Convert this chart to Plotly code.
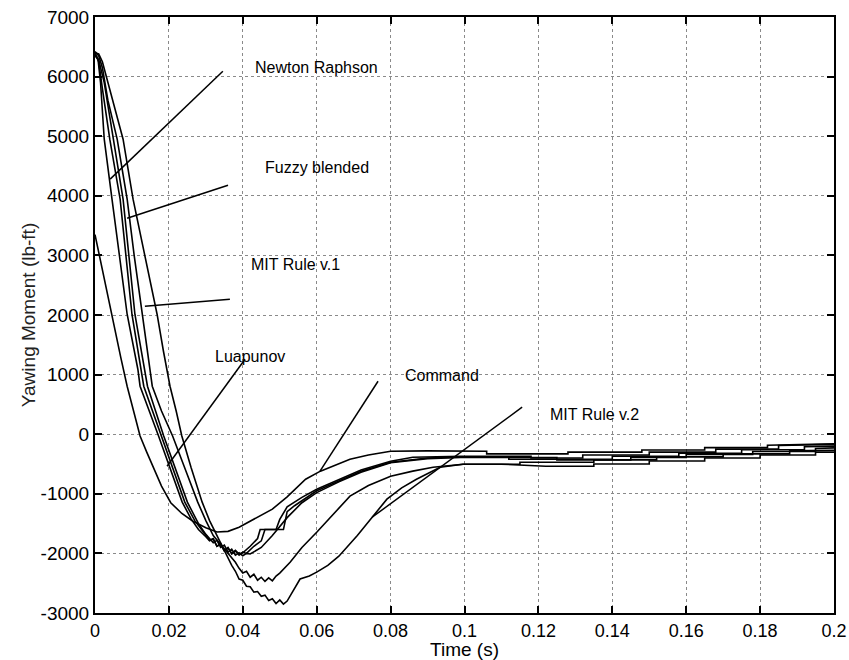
import plotly.graph_objects as go

# Yawing moment responses (time in s, moment in lb-ft)
cmd_t = [0, 0.001, 0.0022, 0.0035, 0.0054, 0.007, 0.0087, 0.0105, 0.0122, 0.014, 0.0157, 0.018,
         0.0205, 0.0235, 0.0265, 0.030, 0.033, 0.036, 0.039, 0.043, 0.048, 0.052, 0.057, 0.061,
         0.065, 0.069, 0.074, 0.080, 0.090, 0.099, 0.106, 0.106, 0.128, 0.128, 0.148, 0.148,
         0.165, 0.165, 0.182, 0.182, 0.2]
cmd_y = [3350, 3050, 2718, 2300, 1762, 1280, 805, 380, -30, -300, -540, -870,
         -1150, -1330, -1460, -1570, -1640, -1630, -1560, -1430, -1258, -1050, -755, -620,
         -520, -420, -350, -285, -280, -285, -285, -330, -330, -300, -300, -265,
         -265, -225, -225, -185, -160]

nr_t = [0, 0.0008, 0.0015, 0.0025, 0.0046, 0.0087, 0.0116, 0.0122, 0.0172, 0.0236, 0.026, 0.028,
        0.030, 0.031, 0.032, 0.033, 0.034, 0.035, 0.036, 0.037, 0.038, 0.039, 0.040, 0.042,
        0.044, 0.0447, 0.049, 0.050, 0.052, 0.056, 0.060, 0.066, 0.072, 0.080, 0.086, 0.099,
        0.118, 0.118, 0.132, 0.132, 0.150, 0.150, 0.168, 0.168, 0.185, 0.185, 0.2]
nr_y = [6400, 6300, 5900, 4950, 3943, 2013, 1090, 805, -30, -1140, -1420, -1600,
        -1720, -1790, -1760, -1880, -1850, -1960, -1910, -2000, -1950, -2010, -1990, -1880,
        -1750, -1600, -1600, -1430, -1220, -1060, -923, -755, -600, -453, -386, -369,
        -369, -400, -400, -350, -350, -300, -300, -250, -250, -190, -170]

lya_t = [0, 0.001, 0.002, 0.0040, 0.0068, 0.0100, 0.0132, 0.0180, 0.0243, 0.027, 0.029, 0.031,
         0.032, 0.033, 0.034, 0.035, 0.036, 0.037, 0.038, 0.039, 0.040, 0.041, 0.043, 0.045,
         0.046, 0.051, 0.052, 0.054, 0.060, 0.066, 0.072, 0.080, 0.090, 0.099,
         0.112, 0.112, 0.140, 0.140, 0.158, 0.158, 0.175, 0.175, 0.192, 0.192, 0.2]
lya_y = [6380, 6250, 5800, 4950, 3943, 2013, 805, -30, -1140, -1450, -1620, -1780,
         -1750, -1880, -1830, -1950, -1900, -2010, -1960, -2030, -1980, -2000, -1880, -1790,
         -1600, -1600, -1300, -1200, -950, -780, -620, -470, -400, -380,
         -380, -420, -420, -370, -370, -320, -320, -260, -260, -210, -200]

fz_t = [0, 0.001, 0.0025, 0.0050, 0.0076, 0.0108, 0.0142, 0.0186, 0.0250, 0.028, 0.030, 0.032,
        0.033, 0.034, 0.035, 0.036, 0.037, 0.038, 0.039, 0.040, 0.041, 0.042, 0.045, 0.048,
        0.052, 0.056, 0.060, 0.066, 0.072, 0.080, 0.090, 0.099,
        0.125, 0.125, 0.145, 0.145, 0.160, 0.160, 0.178, 0.178, 0.195, 0.195, 0.2]
fz_y = [6350, 6280, 5900, 4950, 3943, 2013, 805, -30, -1140, -1500, -1680, -1820,
        -1780, -1900, -1860, -1980, -1930, -2030, -1990, -2040, -2000, -2010, -1900, -1700,
        -1400, -1150, -980, -800, -640, -480, -410, -390,
        -390, -430, -430, -390, -390, -340, -340, -290, -290, -240, -230]

mit1_t = [0, 0.001, 0.002, 0.0035, 0.0060, 0.0087, 0.0106, 0.0128, 0.0141, 0.0155, 0.018, 0.021,
          0.0245, 0.0278, 0.030, 0.032, 0.034, 0.036, 0.038, 0.039, 0.040, 0.041, 0.042, 0.043,
          0.044, 0.045, 0.046, 0.047, 0.048, 0.049, 0.050, 0.0528, 0.056, 0.060, 0.065, 0.069,
          0.074, 0.080, 0.086, 0.0915, 0.0996, 0.115, 0.115, 0.135, 0.135, 0.152, 0.152,
          0.170, 0.170, 0.188, 0.188, 0.2]
mit1_y = [6420, 6350, 6150, 5600, 4950, 3943, 3000, 2013, 1400, 805, 390, -30,
          -600, -1140, -1450, -1700, -1850, -2000, -2150, -2250, -2330, -2300, -2400, -2350,
          -2450, -2400, -2470, -2410, -2460, -2380, -2330, -2150, -1900, -1645, -1300, -1040,
          -860, -705, -620, -554, -503, -503, -470, -470, -430, -430, -380,
          -380, -330, -330, -280, -270]

mit2_t = [0, 0.001, 0.002, 0.004, 0.0076, 0.0103, 0.0135, 0.0168, 0.0185, 0.0203, 0.022, 0.0235,
          0.026, 0.029, 0.031, 0.033, 0.035, 0.036, 0.037, 0.038, 0.039, 0.040, 0.041, 0.042,
          0.043, 0.044, 0.045, 0.046, 0.047, 0.048, 0.049, 0.050, 0.051, 0.052, 0.053, 0.0555,
          0.058, 0.060, 0.063, 0.066, 0.071, 0.075, 0.079, 0.083, 0.087, 0.0934, 0.0996,
          0.110, 0.122, 0.135, 0.135, 0.150, 0.150, 0.165, 0.165, 0.180, 0.180, 0.195, 0.195, 0.2]
mit2_y = [6400, 6380, 6250, 5800, 4950, 3943, 3000, 2013, 1400, 805, 380, -30,
          -560, -1140, -1450, -1700, -1950, -2100, -2200, -2300, -2430, -2450, -2550, -2560,
          -2650, -2640, -2720, -2700, -2790, -2760, -2840, -2780, -2850, -2800, -2700, -2430,
          -2380, -2315, -2200, -2047, -1700, -1393, -1090, -900, -755, -554, -503,
          -503, -537, -537, -500, -500, -450, -450, -400, -400, -350, -350, -300, -300]

series = [
    ("Command", cmd_t, cmd_y),
    ("Newton Raphson", nr_t, nr_y),
    ("Luapunov", lya_t, lya_y),
    ("Fuzzy blended", fz_t, fz_y),
    ("MIT Rule v.1", mit1_t, mit1_y),
    ("MIT Rule v.2", mit2_t, mit2_y),
]

x_ticks = [0, 0.02, 0.04, 0.06, 0.08, 0.1, 0.12, 0.14, 0.16, 0.18, 0.2]
x_tick_text = ["0", "0.02", "0.04", "0.06", "0.08", "0.1", "0.12", "0.14", "0.16", "0.18", "0.2"]
y_ticks = [-3000, -2000, -1000, 0, 1000, 2000, 3000, 4000, 5000, 6000, 7000]
y_tick_text = ["-3000", "-2000", "-1000", "0", "1000", "2000", "3000", "4000", "5000", "6000", "7000"]

# Curve labels: text anchor (left, middle) and leader line from label side to curve
labels = [
    ("Newton Raphson", (0.0428, 6158), (0.0346, 6090), (0.0041, 4280)),
    ("Fuzzy blended", (0.0455, 4480), (0.0360, 4178), (0.0087, 3624)),
    ("MIT Rule v.1", (0.0417, 2852), (0.0365, 2265), (0.0135, 2148)),
    ("Luapunov", (0.0319, 1309), (0.0406, 1258), (0.0195, -537)),
    ("Command", (0.0834, 990), (0.0766, 889), (0.0609, -620)),
    ("MIT Rule v.2", (0.1226, 335), (0.1156, 453), (0.0750, -1393)),
]

FONT = "Liberation Sans, Arial, sans-serif"

fig = go.Figure()
for name, t, y in series:
    fig.add_trace(go.Scatter(x=t, y=y, mode="lines", name=name,
                             line=dict(color="black", width=1.6)))

for text, (tx, ty), (x0, y0), (x1, y1) in labels:
    fig.add_annotation(x=tx, y=ty, text=text, showarrow=False, xanchor="left",
                       yanchor="middle", font=dict(family=FONT, size=16, color="black"))
    fig.add_shape(type="line", x0=x0, y0=y0, x1=x1, y1=y1, xref="x", yref="y",
                  line=dict(color="black", width=1.5))

axis_common = dict(
    showline=True, linecolor="black", linewidth=2, mirror="ticks",
    ticks="inside", ticklen=7, tickwidth=1.5, tickcolor="black",
    showgrid=True, gridcolor="#8a8a8a", gridwidth=1, griddash="dot",
    zeroline=False, automargin=False,
)

fig.update_xaxes(range=[0, 0.2], tickvals=x_ticks, ticktext=x_tick_text,
                 tickfont=dict(family=FONT, size=18, color="black"),
                 title=dict(text="Time (s)", standoff=0,
                            font=dict(family=FONT, size=19, color="black")),
                 **axis_common)
fig.update_yaxes(range=[-3000, 7000], tickvals=y_ticks, ticktext=y_tick_text,
                 tickfont=dict(family=FONT, size=19, color="black"),
                 title=dict(text="Yawing Moment (lb-ft)", standoff=0,
                            font=dict(family=FONT, size=19, color="#222")),
                 **axis_common)

fig.update_layout(
    width=849, height=660,
    margin=dict(l=95, r=15, t=17, b=47),
    plot_bgcolor="white", paper_bgcolor="white",
    showlegend=False,
)

fig.write_html("out.html")
